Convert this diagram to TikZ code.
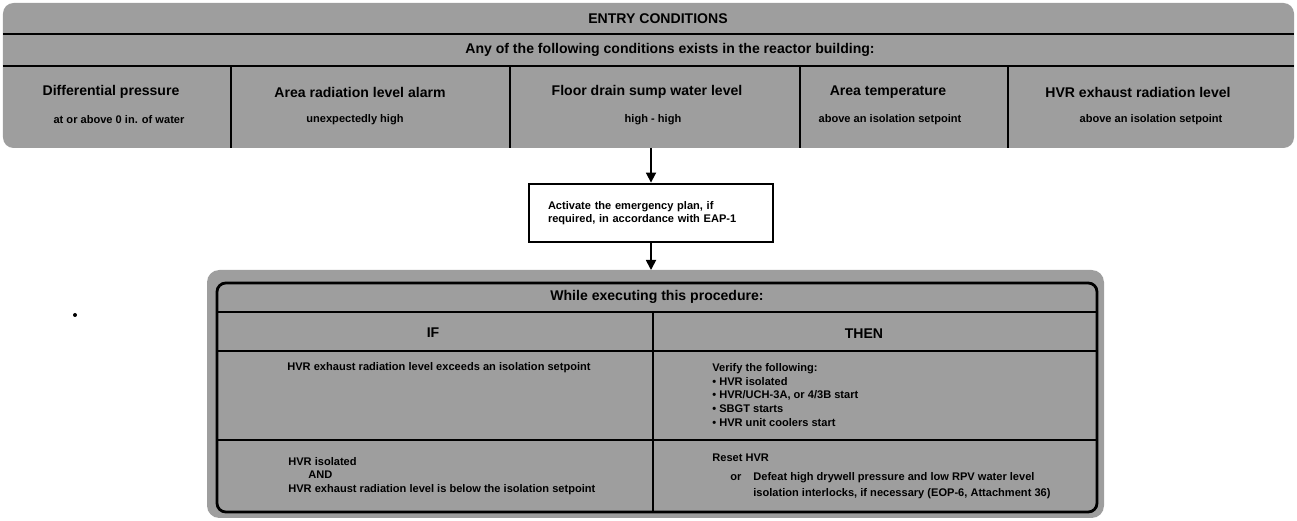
\documentclass[tikz,border=0pt]{standalone}
\usepackage{fontspec}
\setmainfont{Liberation Sans}
\usetikzlibrary{arrows.meta}
\definecolor{screen}{gray}{0.62}

\begin{document}
\begin{tikzpicture}[x=1cm,y=1cm,
    heading/.style={font=\bfseries\fontsize{8}{9.6}\selectfont, inner sep=0pt},
    note/.style={font=\bfseries\fontsize{6.3}{7.7}\selectfont, inner sep=0pt},
    rule/.style={line width=1.6pt},
    flow/.style={-{Triangle[length=2mm,width=2mm]}, line width=1pt}]
    \useasboundingbox (0,0) rectangle (25.94,10.42);

    % entry conditions
    \fill[screen, rounded corners=6pt] (0.06,7.46) rectangle (25.88,10.36);
    \draw[rule] (0.06,9.74) -- (25.88,9.74);
    \draw[rule] (0.06,9.10) -- (25.88,9.10);
    \foreach \x in {4.62,10.20,16.00,20.16}
        \draw[line width=1.3pt] (\x,9.10) -- (\x,7.46);
    \node[heading] (title) at (13.16,10.05) {ENTRY CONDITIONS};
    \node[heading] (any) at (13.40,9.42) {Any of the following conditions exists in the reactor building:};
    \node[heading] (dp) at (2.22,8.58) {Differential pressure};
    \node[note] (dpval) at (2.38,8.02) {at or above 0 in. of water};
    \node[heading] (arl) at (7.20,8.58) {Area radiation level alarm};
    \node[note] (arlval) at (7.10,8.02) {unexpectedly high};
    \node[heading] (sump) at (12.94,8.58) {Floor drain sump water level};
    \node[note] (sumpval) at (13.06,8.02) {high - high};
    \node[heading] (temp) at (17.76,8.58) {Area temperature};
    \node[note] (tempval) at (17.80,8.02) {above an isolation setpoint};
    \node[heading] (hvr) at (22.76,8.58) {HVR exhaust radiation level};
    \node[note] (hvrval) at (23.02,8.02) {above an isolation setpoint};
    \coordinate (entry) at (13.02,7.46);

    % emergency plan
    \node[draw, line width=1.6pt, note, minimum width=4.88cm, minimum height=1.16cm,
        text width=4.12cm, align=left, inner xsep=0.38cm,
        font=\bfseries\fontsize{6.3}{7.4}\selectfont] (activate) at (13.02,6.16)
        {Activate the emergency plan, if\\required, in accordance with EAP-1};

    % while executing
    \fill[screen, rounded corners=7pt] (4.14,0.06) rectangle (22.08,5.02);
    \coordinate (procedure) at (13.02,5.02);
    \draw[rule, rounded corners=5pt] (4.34,0.18) rectangle (21.94,4.76);
    \draw[rule] (4.34,4.18) -- (21.94,4.18);
    \draw[rule] (4.34,3.40) -- (21.94,3.40);
    \draw[rule] (4.34,1.62) -- (21.94,1.62);
    \draw[rule] (13.06,4.18) -- (13.06,0.18);
    \node[heading] (while) at (13.14,4.48) {While executing this procedure:};
    \node[heading] (if) at (8.66,3.77) {IF};
    \node[heading] (then) at (17.28,3.74) {THEN};
    \node[note] (exceeds) at (8.78,3.06) {HVR exhaust radiation level exceeds an isolation setpoint};
    \node[note, anchor=west, align=left, font=\bfseries\fontsize{6.3}{7.9}\selectfont] (verify) at (14.24,2.52)
        {Verify the following:\\
        \textbullet\ HVR isolated\\
        \textbullet\ HVR/UCH-3A, or 4/3B start\\
        \textbullet\ SBGT starts\\
        \textbullet\ HVR unit coolers start};
    \node[note, anchor=west, align=left, font=\bfseries\fontsize{6.3}{7.65}\selectfont] (below) at (5.76,0.90)
        {HVR isolated\\
        \hspace*{0.4cm}AND\\
        HVR exhaust radiation level is below the isolation setpoint};
    \node[note, anchor=west] (reset) at (14.24,1.26) {Reset HVR};
    \node[note, anchor=west] (or) at (14.60,0.86) {or};
    \node[note, anchor=west, align=left, font=\bfseries\fontsize{6.3}{9}\selectfont] (defeat) at (15.06,0.70)
        {Defeat high drywell pressure and low RPV water level\\
        isolation interlocks, if necessary (EOP-6, Attachment 36)};

    \fill (1.50,4.12) circle (0.04);

    \draw[flow] (entry) -- (activate);
    \draw[flow] (activate) -- (procedure);
\end{tikzpicture}
\end{document}
